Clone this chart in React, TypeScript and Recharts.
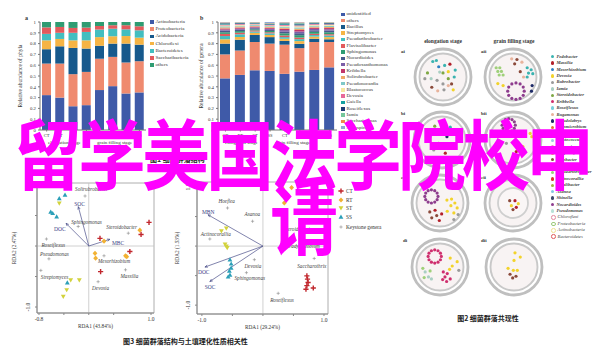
import React from 'react';
import { BarChart, Bar, XAxis, YAxis, ScatterChart, Scatter, ReferenceLine, ReferenceArea, ReferenceDot } from 'recharts';

// ---- fig 1: stacked bars ----
const samples = ['CT', 'RT', 'ST', 'SS', 'CT', 'RT', 'ST', 'SS'];

const phyla = ['Actinobacteria', 'Proteobacteria', 'Acidobacteria', 'Chloroflexi', 'Bacteroidetes', 'Saccharibacteria', 'others'];
const phylaColors = ['#3f5aa8', '#ef8a6f', '#17598c', '#f6b444', '#43bec0', '#e35a5c', '#2f9c72'];
const actinobacteria = [0.323, 0.3, 0.22, 0.23, 0.37, 0.406, 0.338, 0.348];
const proteobacteria = [0.292, 0.315, 0.297, 0.308, 0.29, 0.271, 0.287, 0.289];
const acidobacteria = [0.133, 0.16, 0.243, 0.216, 0.12, 0.123, 0.175, 0.153];
const chloroflexi = [0.082, 0.068, 0.07, 0.076, 0.08, 0.068, 0.07, 0.065];
const bacteroidetes = [0.06, 0.057, 0.07, 0.078, 0.07, 0.07, 0.062, 0.068];
const saccharibacteria = [0.06, 0.054, 0.045, 0.04, 0.033, 0.032, 0.038, 0.037];
const otherPhyla = [0.05, 0.046, 0.055, 0.052, 0.037, 0.03, 0.03, 0.04];
const phylaValues = [actinobacteria, proteobacteria, acidobacteria, chloroflexi, bacteroidetes, saccharibacteria, otherPhyla];

const genera = ['unidentified', 'others', 'Bacillus', 'Streptomyces', 'Pseudarthrobacter', 'Flavisolibacter', 'Sphingomonas',
  'Nocardioides', 'Pseudoxanthomonas', 'Kribbella', 'Solirubrobacter', 'Pseudonocardia', 'Blastococcus', 'Devosia',
  'Gaiella', 'Roseiflexus', 'Iamia', 'Saccharimonas', 'Nitrospira'];
const generaColors = ['#3f5aa8', '#ef8a6f', '#17598c', '#f6b444', '#43bec0', '#e35a5c', '#2f9c72', '#4a5a8c', '#7b5ea7',
  '#c2366b', '#f0a868', '#7fc8c8', '#f6e7a1', '#e7699a', '#15a0a0', '#1f3b73', '#76c79b', '#f08a4b', '#8fa8d6'];
const unidentified = [0.478, 0.51, 0.553, 0.547, 0.52, 0.54, 0.556, 0.58];
const otherGenera = [0.222, 0.226, 0.262, 0.253, 0.27, 0.218, 0.259, 0.235];
const bacillus = [0.1, 0.1, 0.065, 0.06, 0.035, 0.04, 0.03, 0.025];
const streptomyces = [0.04, 0.025, 0.02, 0.02, 0.02, 0.025, 0.02, 0.02];
const pseudarthrobacter = [0.03, 0.025, 0.012, 0.015, 0.015, 0.018, 0.014, 0.015];
const flavisolibacter = [0.02, 0.015, 0.01, 0.01, 0.015, 0.015, 0.012, 0.012];
const sphingomonas = [0.015, 0.015, 0.01, 0.012, 0.02, 0.022, 0.018, 0.018];
const nocardioides = [0.015, 0.012, 0.01, 0.01, 0.015, 0.018, 0.014, 0.015];
const pseudoxanthomonas = [0.01, 0.01, 0.008, 0.01, 0.015, 0.016, 0.013, 0.013];
const kribbella = [0.01, 0.01, 0.008, 0.008, 0.012, 0.014, 0.011, 0.011];
const solirubrobacter = [0.01, 0.01, 0.007, 0.008, 0.01, 0.012, 0.01, 0.01];
const pseudonocardia = [0.01, 0.008, 0.007, 0.008, 0.01, 0.012, 0.009, 0.01];
const blastococcus = [0.008, 0.008, 0.006, 0.006, 0.008, 0.01, 0.008, 0.008];
const devosia = [0.008, 0.007, 0.005, 0.006, 0.008, 0.009, 0.007, 0.007];
const gaiella = [0.006, 0.005, 0.005, 0.005, 0.007, 0.008, 0.006, 0.006];
const roseiflexus = [0.006, 0.005, 0.004, 0.005, 0.007, 0.008, 0.005, 0.006];
const iamia = [0.004, 0.003, 0.003, 0.004, 0.005, 0.006, 0.004, 0.004];
const saccharimonas = [0.004, 0.003, 0.003, 0.003, 0.004, 0.005, 0.002, 0.003];
const nitrospira = [0.004, 0.003, 0.002, 0.01, 0.004, 0.004, 0.002, 0.002];
const generaValues = [unidentified, otherGenera, bacillus, streptomyces, pseudarthrobacter, flavisolibacter, sphingomonas,
  nocardioides, pseudoxanthomonas, kribbella, solirubrobacter, pseudonocardia, blastococcus, devosia, gaiella,
  roseiflexus, iamia, saccharimonas, nitrospira];

const abundanceTicks = [0, 0.1, 0.2, 0.3, 0.4, 0.5, 0.6, 0.7, 0.8, 0.9, 1];

// ---- fig 3: RDA ----
const rdaLeftCT = [{ x: 0.968, y: 0.388 }, { x: 0.84, y: 0.19 }, { x: 0.18, y: 0.125 }, { x: 0.66, y: -0.09 }, { x: 0.19, y: -0.42 }];
const rdaLeftRT = [{ x: 0.82, y: 0.26 }, { x: 0.245, y: 0.08 }, { x: 0.1, y: -0.12 }, { x: 0.11, y: -0.2 }, { x: 0.61, y: -0.175 }, { x: 0.59, y: -0.16 }];
const rdaLeftST = [{ x: -0.474, y: 0.7 }, { x: -0.29, y: -0.557 }, { x: -0.152, y: -0.557 }, { x: -0.355, y: -0.72 }, { x: -0.41, y: -0.83 }];
const rdaLeftSS = [{ x: -0.474, y: 0.78 }, { x: -0.382, y: 0.836 }, { x: -0.612, y: 0.56 }, { x: -0.58, y: 0.536 }, { x: -0.516, y: 0.48 }, { x: -0.345, y: -0.6 }];
const rdaLeftGenera = [
  { name: 'Solirubrobacter', x: -0.06, y: 0.82 },
  { name: 'Sphingomonas', x: -0.17, y: 0.32 },
  { name: 'Steroidobacter', x: 0.635, y: 0.21 },
  { name: 'Roseiflexus', x: -0.68, y: 0.115 },
  { name: 'Pseudomonas', x: -0.64, y: -0.21 },
  { name: 'Mesorhizobium', x: 0.245, y: -0.16 },
  { name: 'Streptomyces', x: -0.77, y: -0.4 },
  { name: 'Massilia', x: 0.59, y: -0.39 },
  { name: 'Devosia', x: 0.15, y: -0.585 },
];
const rdaLeftFactors = [{ name: 'SOC', x: -0.168, y: 0.645 }, { name: 'DOC', x: -0.366, y: 0.372 }, { name: 'MBC', x: 0.34, y: 0.11 }];

const rdaRightCT = [{ x: 0.72, y: -0.505 }, { x: 0.73, y: -0.56 }, { x: 0.74, y: -0.617 }, { x: 0.72, y: -0.67 }, { x: 0.705, y: -0.73 }, { x: 0.825, y: -0.71 }];
const rdaRightRT = [{ x: 0.32, y: 0.98 }, { x: 0.47, y: 0.99 }, { x: 0.36, y: 0.83 }, { x: 0.35, y: 0.73 }];
const rdaRightST = [{ x: -0.68, y: 0.255 }, { x: -0.6, y: 0.3 }, { x: -0.62, y: 0.03 }, { x: -0.6, y: -0.005 }, { x: -0.585, y: -0.03 }];
const rdaRightSS = [{ x: -0.54, y: -0.23 }, { x: -0.52, y: -0.3 }, { x: -0.55, y: -0.42 }, { x: -0.54, y: -0.49 }, { x: -0.57, y: -0.52 }, { x: -0.52, y: -0.37 }];
const rdaRightGenera = [
  { name: 'Hoeflea', x: -0.58, y: 0.645 },
  { name: 'Asanoa', x: -0.17, y: 0.42 },
  { name: 'Actinocorallia', x: -0.87, y: 0.12 },
  { name: 'Devosia', x: -0.14, y: -0.23 },
  { name: 'Sphingomonas', x: -0.27, y: -0.45 },
  { name: 'Saccharothrix', x: 0.84, y: -0.21 },
  { name: 'Roseiflexus', x: 0.25, y: -0.8 },
  { name: 'Steroidobacter', x: 0.34, y: 0.22 },
  { name: 'Bradyrhizobium', x: 0.38, y: 0.02 },
];
const rdaRightFactors = [{ name: 'MBN', x: -0.9, y: 0.53 }, { name: 'DOC', x: -0.95, y: -0.355 }, { name: 'SOC', x: -0.87, y: -0.6 }];

const treatments = ['CT', 'RT', 'ST', 'SS'];
const treatmentColors = ['#c1272d', '#f2b233', '#d2d23c', '#2b9fb8'];

// label placement [dx, dy] in px, kept apart from the values
const leftLabelOffset: Record<string, number[]> = {
  Solirubrobacter: [-10, -6], Sphingomonas: [-7, -4], Steroidobacter: [-22, -5], Roseiflexus: [-5, 7],
  Pseudomonas: [-9, -4], Mesorhizobium: [-6, 6], Streptomyces: [0, 7], Massilia: [-5, 7], Devosia: [-6, 7],
};
const rightLabelOffset: Record<string, number[]> = {
  Hoeflea: [-9, -6], Asanoa: [-8, -6], Actinocorallia: [-9, -4], Devosia: [-10, 7], Sphingomonas: [-12, 6],
  Saccharothrix: [-17, 8], Roseiflexus: [-8, 7], Steroidobacter: [0, -3], Bradyrhizobium: [0, 2],
};
const leftFactorOffset: Record<string, number[]> = { SOC: [-4, -2], DOC: [-12, 6], MBC: [2, 4] };
const rightFactorOffset: Record<string, number[]> = { MBN: [-6, -2], DOC: [-7, 6], SOC: [-5, 6] };

// ---- fig 2: co-occurrence networks ----
const netGenera = ['Pedobacter', 'Massilia', 'Mesorhizobium', 'Devosia', 'Rubrobacter', 'Iamia', 'Steroidobacter', 'Kribbella',
  'Roseiflexus', 'Rugamonas', 'Pseudolabrys', 'Aeromicrobium', 'Gemmatimonas', 'Blastococcus', 'Nitrospira', 'Streptomyces',
  'Lysobacter', 'Haliangium', 'Pseudarthrobacter', 'Actinocorallia', 'Ramlibacter', 'Asanoa', 'Shinella', 'Nocardioides', 'Pseudomonas'];
const netColors = ['#3bb3b0', '#b3202a', '#2e7fc4', '#f2d32b', '#9a9a9a', '#a9cfc3', '#7ea744', '#cf2f6e', '#79d0de', '#e8b39c',
  '#1d2a66', '#e5722d', '#5aa34a', '#9fcbe6', '#e38fb0', '#f2b233', '#8b4a3b', '#d83a2e', '#9fd07a', '#e0322b', '#a3b63a',
  '#86c6df', '#3c4a6a', '#8e3d8e', '#b9e2d8'];
const moduleNames = ['Chloroflexi', 'Proteobacteria', 'Actinobacteria', 'Bacteroidetes'];
const moduleColors = ['#e48aa0', '#9bcb7a', '#f1e08f', '#e05a5a'];

const aiNodes = [
  { x: -0.31, y: 0.47, g: 'Pedobacter' }, { x: -0.2, y: 0.5, g: 'Pedobacter' }, { x: -0.13, y: 0.31, g: 'Mesorhizobium' },
  { x: 0.21, y: 0.39, g: 'Massilia' }, { x: 0.05, y: 0.35, g: 'Pedobacter' }, { x: 0, y: 0.125, g: 'Steroidobacter' },
  { x: 0.16, y: 0.16, g: 'Devosia' }, { x: 0.37, y: 0.21, g: 'Pedobacter' }, { x: 0.34, y: 0, g: 'Pedobacter' },
  { x: -0.55, y: -0.05, g: 'Rubrobacter' }, { x: -0.36, y: -0.05, g: 'Iamia' }, { x: -0.47, y: 0.125, g: 'Steroidobacter' },
  { x: -0.18, y: -0.1, g: 'Rubrobacter' }, { x: 0, y: -0.21, g: 'Rubrobacter' }, { x: 0.16, y: -0.05, g: 'Steroidobacter' },
  { x: -0.34, y: -0.31, g: 'Lysobacter' }, { x: -0.16, y: -0.42, g: 'Rugamonas' }, { x: 0.03, y: -0.39, g: 'Rubrobacter' },
  { x: 0.16, y: -0.26, g: 'Rugamonas' }, { x: 0.31, y: -0.39, g: 'Devosia' }, { x: 0.26, y: -0.21, g: 'Lysobacter' },
  { x: -0.1, y: 0.15, g: 'Iamia' },
];
const aiiNodes = [
  { x: -0.51, y: 0.28, g: 'Pseudarthrobacter' }, { x: -0.4, y: 0.28, g: 'Pseudarthrobacter' }, { x: -0.46, y: 0.17, g: 'Pseudarthrobacter' },
  { x: -0.35, y: 0.17, g: 'Pseudarthrobacter' }, { x: -0.42, y: 0.06, g: 'Pseudarthrobacter' }, { x: -0.3, y: 0.06, g: 'Pseudarthrobacter' },
  { x: 0.43, y: 0.28, g: 'Pedobacter' }, { x: 0.55, y: 0.22, g: 'Pedobacter' }, { x: 0.47, y: 0.12, g: 'Pedobacter' },
  { x: 0.6, y: 0.1, g: 'Pedobacter' }, { x: 0.43, y: 0, g: 'Pedobacter' },
  { x: -0.46, y: -0.2, g: 'Devosia' }, { x: -0.3, y: -0.26, g: 'Devosia' },
  { x: 0.58, y: -0.26, g: 'Pseudolabrys' }, { x: 0.56, y: -0.43, g: 'Pseudolabrys' },
  { x: -0.04, y: 0.55, g: 'Rugamonas' }, { x: 0.12, y: 0.53, g: 'Lysobacter' }, { x: 0.27, y: 0.45, g: 'Rugamonas' },
  { x: 0.05, y: 0.4, g: 'Lysobacter' }, { x: 0.22, y: 0.16, g: 'Lysobacter' }, { x: 0.32, y: 0, g: 'Rugamonas' },
  { x: 0.34, y: -0.43, g: 'Nocardioides' }, { x: 0.31, y: -0.305, g: 'Nocardioides' }, { x: 0.215, y: -0.21, g: 'Nocardioides' },
  { x: 0.09, y: -0.18, g: 'Nocardioides' }, { x: -0.035, y: -0.21, g: 'Nocardioides' }, { x: -0.13, y: -0.305, g: 'Nocardioides' },
  { x: -0.16, y: -0.43, g: 'Nocardioides' }, { x: -0.13, y: -0.555, g: 'Nocardioides' }, { x: -0.035, y: -0.65, g: 'Nocardioides' },
  { x: 0.09, y: -0.68, g: 'Nocardioides' }, { x: 0.215, y: -0.65, g: 'Nocardioides' }, { x: 0.31, y: -0.555, g: 'Nocardioides' },
];
const biNodes = [
  { x: -0.22, y: 0.42, g: 'Steroidobacter' }, { x: 0.25, y: 0.39, g: 'Pedobacter' }, { x: 0.05, y: 0.5, g: 'Pedobacter' },
  { x: -0.05, y: 0.3, g: 'Devosia' }, { x: 0.35, y: 0.2, g: 'Massilia' }, { x: -0.35, y: 0.1, g: 'Iamia' },
  { x: -0.1, y: -0.1, g: 'Kribbella' }, { x: 0.2, y: -0.2, g: 'Devosia' }, { x: -0.25, y: -0.3, g: 'Rubrobacter' },
  { x: 0.1, y: -0.4, g: 'Massilia' }, { x: -0.4, y: 0.3, g: 'Pedobacter' }, { x: 0.15, y: 0.1, g: 'Pseudolabrys' },
];
const biiNodes = [
  { x: 0.07, y: 0.45, g: 'Nocardioides' }, { x: 0.04, y: 0.55, g: 'Nocardioides' }, { x: -0.03, y: 0.62, g: 'Nocardioides' },
  { x: -0.13, y: 0.65, g: 'Nocardioides' }, { x: -0.23, y: 0.62, g: 'Nocardioides' }, { x: -0.3, y: 0.55, g: 'Nocardioides' },
  { x: -0.33, y: 0.45, g: 'Nocardioides' }, { x: -0.3, y: 0.35, g: 'Nocardioides' }, { x: -0.23, y: 0.28, g: 'Nocardioides' },
  { x: -0.13, y: 0.25, g: 'Nocardioides' }, { x: -0.03, y: 0.28, g: 'Nocardioides' }, { x: 0.04, y: 0.35, g: 'Nocardioides' },
  { x: 0.52, y: 0.2, g: 'Devosia' }, { x: 0.57, y: 0.1, g: 'Devosia' }, { x: 0.3, y: -0.2, g: 'Devosia' },
  { x: -0.2, y: -0.1, g: 'Rubrobacter' }, { x: 0.1, y: -0.35, g: 'Massilia' },
];
const ciNodes = [
  { x: -0.06, y: 0.2, g: 'Nocardioides' }, { x: -0.087, y: 0.3, g: 'Nocardioides' }, { x: -0.16, y: 0.373, g: 'Nocardioides' },
  { x: -0.26, y: 0.4, g: 'Nocardioides' }, { x: -0.36, y: 0.373, g: 'Nocardioides' }, { x: -0.433, y: 0.3, g: 'Nocardioides' },
  { x: -0.46, y: 0.2, g: 'Nocardioides' }, { x: -0.433, y: 0.1, g: 'Nocardioides' }, { x: -0.36, y: 0.027, g: 'Nocardioides' },
  { x: -0.26, y: 0, g: 'Nocardioides' }, { x: -0.16, y: 0.027, g: 'Nocardioides' }, { x: -0.087, y: 0.1, g: 'Nocardioides' },
  { x: 0.21, y: 0.09, g: 'Devosia' }, { x: 0.35, y: 0.12, g: 'Devosia' }, { x: 0.45, y: 0, g: 'Devosia' },
  { x: 0.33, y: -0.08, g: 'Devosia' }, { x: 0.22, y: -0.25, g: 'Devosia' }, { x: 0.42, y: -0.3, g: 'Devosia' },
  { x: 0.52, y: -0.15, g: 'Devosia' },
  { x: -0.31, y: -0.27, g: 'Lysobacter' }, { x: -0.15, y: -0.22, g: 'Massilia' }, { x: -0.1, y: -0.38, g: 'Lysobacter' },
  { x: 0.05, y: -0.33, g: 'Massilia' }, { x: -0.25, y: -0.45, g: 'Lysobacter' }, { x: -0.02, y: -0.53, g: 'Massilia' },
  { x: 0.42, y: -0.5, g: 'Rubrobacter' }, { x: 0.55, y: -0.35, g: 'Rubrobacter' },
];
const ciiNodes = [
  { x: -0.1, y: 0.07, g: 'Lysobacter' }, { x: 0.06, y: 0.07, g: 'Massilia' }, { x: 0.16, y: -0.02, g: 'Devosia' },
  { x: -0.05, y: -0.08, g: 'Devosia' }, { x: 0.1, y: -0.13, g: 'Massilia' }, { x: 0, y: -0.2, g: 'Lysobacter' },
];
const diNodes = [
  { x: 0.04, y: 0.32, g: 'Kribbella' }, { x: 0.013, y: 0.42, g: 'Kribbella' }, { x: -0.06, y: 0.493, g: 'Kribbella' },
  { x: -0.16, y: 0.52, g: 'Kribbella' }, { x: -0.26, y: 0.493, g: 'Kribbella' }, { x: -0.333, y: 0.42, g: 'Kribbella' },
  { x: -0.36, y: 0.32, g: 'Kribbella' }, { x: -0.333, y: 0.22, g: 'Kribbella' }, { x: -0.26, y: 0.147, g: 'Kribbella' },
  { x: -0.16, y: 0.12, g: 'Kribbella' }, { x: -0.06, y: 0.147, g: 'Kribbella' }, { x: 0.013, y: 0.22, g: 'Kribbella' },
  { x: 0.31, y: 0.27, g: 'Devosia' }, { x: 0.52, y: 0.16, g: 'Devosia' }, { x: 0.37, y: 0.03, g: 'Devosia' }, { x: 0.29, y: -0.07, g: 'Devosia' },
  { x: -0.52, y: -0.04, g: 'Pseudarthrobacter' }, { x: -0.45, y: -0.15, g: 'Iamia' }, { x: -0.3, y: -0.12, g: 'Pseudarthrobacter' },
  { x: -0.35, y: -0.3, g: 'Iamia' }, { x: -0.48, y: -0.32, g: 'Pseudarthrobacter' }, { x: -0.26, y: -0.36, g: 'Iamia' },
  { x: 0.1, y: -0.15, g: 'Kribbella' }, { x: 0.22, y: -0.2, g: 'Kribbella' }, { x: 0.15, y: -0.3, g: 'Kribbella' },
  { x: 0.31, y: -0.36, g: 'Kribbella' }, { x: 0.2, y: -0.44, g: 'Kribbella' }, { x: 0.08, y: -0.38, g: 'Kribbella' },
  { x: 0.57, y: -0.1, g: 'Rubrobacter' },
];
const diiNodes = [
  { x: 0.03, y: 0.43, g: 'Devosia' }, { x: 0.19, y: 0.3, g: 'Devosia' }, { x: 0, y: 0.2, g: 'Devosia' },
  { x: -0.18, y: -0.04, g: 'Devosia' }, { x: -0.02, y: -0.1, g: 'Devosia' }, { x: 0.1, y: -0.1, g: 'Devosia' },
  { x: -0.12, y: -0.22, g: 'Lysobacter' }, { x: 0.06, y: -0.28, g: 'Lysobacter' }, { x: -0.04, y: -0.33, g: 'Lysobacter' },
];

const titleLines = ['留学美国法学院校申', '请'];

const SERIF = "'Liberation Serif', 'DejaVu Serif', serif";
const CJK = "'Noto Sans CJK SC', sans-serif";

const abs = (left: number, top: number, extra: React.CSSProperties = {}): React.CSSProperties => ({
  position: 'absolute', left, top, ...extra,
});

function buildRows(values: number[][], keys: string[]) {
  return samples.map((s, i) => {
    const row: Record<string, number | string> = { label: s };
    keys.forEach((k, j) => { row[k] = values[j][i]; });
    return row;
  });
}

function StackPanel({ left, keys, colors, values, yLabel, barSize }: {
  left: number; keys: string[]; colors: string[]; values: number[][]; yLabel: string; barSize: number;
}) {
  const data = buildRows(values, keys);
  return (
    <div style={abs(left, 0)}>
      <BarChart width={left === 0 ? 150 : 160} height={150} data={data} margin={{ top: 22, right: left === 0 ? 4 : 3, bottom: 10, left: 0 }}>
        <XAxis dataKey="label" height={10} tickSize={1.5} stroke="#777" tick={{ fontSize: 4.5, fill: '#333', fontFamily: SERIF }} interval={0} />
        <YAxis type="number" domain={[0, 1]} ticks={abundanceTicks} width={left === 0 ? 40 : 38} tickSize={2} stroke="#777"
          tickFormatter={(v: number) => (v === 1 ? '1' : v === 0 ? '0' : v.toFixed(1))}
          tick={{ fontSize: 4.8, fill: '#333', fontFamily: SERIF }}
          label={{ value: yLabel, angle: -90, position: 'insideLeft', offset: left === 0 ? 20 : 21, style: { fontSize: 5.5, fill: '#333', fontFamily: SERIF, textAnchor: 'middle' } }} />
        {keys.map((k, j) => (
          <Bar key={k} dataKey={k} stackId="s" fill={colors[j]} barSize={barSize} isAnimationActive={false} />
        ))}
      </BarChart>
    </div>
  );
}

function SquareLegend({ left, top, step, names, colors }: {
  left: number; top: number; step: number; names: string[]; colors: string[];
}) {
  return (
    <div style={abs(left, top)}>
      {names.map((n, i) => (
        <div key={n} style={abs(0, i * step - 3, { display: 'flex', alignItems: 'center', whiteSpace: 'nowrap' })}>
          <span style={{ width: 3.5, height: 3.5, background: colors[i], display: 'inline-block', marginRight: 2 }} />
          <span style={{ fontSize: 5, lineHeight: '6px', fontFamily: SERIF, color: '#333' }}>{n}</span>
        </div>
      ))}
    </div>
  );
}

function marker(kind: string, color: string) {
  return (props: any) => {
    const { cx, cy } = props;
    if (cx == null || cy == null) return <g />;
    if (kind === 'CT') {
      return <path d={`M${cx - 2.6},${cy}H${cx + 2.6}M${cx},${cy - 2.6}V${cy + 2.6}`} stroke={color} strokeWidth={1.4} />;
    }
    if (kind === 'RT') {
      return <path d={`M${cx},${cy - 2.6}L${cx + 2.4},${cy}L${cx},${cy + 2.6}L${cx - 2.4},${cy}Z`} fill={color} />;
    }
    if (kind === 'ST') {
      return <path d={`M${cx - 2.4},${cy - 1.8}H${cx + 2.4}L${cx},${cy + 2.4}Z`} fill={color} />;
    }
    return <path d={`M${cx - 2.4},${cy + 1.8}H${cx + 2.4}L${cx},${cy - 2.4}Z`} fill={color} />;
  };
}

function genusMarker(offsets: Record<string, number[]>) {
  return (props: any) => {
    const { cx, cy, payload } = props;
    if (cx == null || cy == null) return <g />;
    const [dx, dy] = offsets[payload.name] || [2, -3];
    return (
      <g>
        <path d={`M${cx - 1.6},${cy}H${cx + 1.6}M${cx},${cy - 1.6}V${cy + 1.6}`} stroke="#8a8a8a" strokeWidth={0.6} />
        <text x={cx + dx} y={cy + dy} fontSize={5.2} fontStyle="italic" fill="#444" fontFamily={SERIF} dominantBaseline="middle">{payload.name}</text>
      </g>
    );
  };
}

function arrowHead(kx: number, ky: number, offsets: Record<string, number[]>) {
  return (props: any) => {
    const { cx, cy, payload } = props;
    if (cx == null || cy == null) return <g />;
    const ang = Math.atan2(-payload.y * ky, payload.x * kx);
    const s = 3;
    const p1x = cx - s * Math.cos(ang - 0.4), p1y = cy - s * Math.sin(ang - 0.4);
    const p2x = cx - s * Math.cos(ang + 0.4), p2y = cy - s * Math.sin(ang + 0.4);
    const [dx, dy] = offsets[payload.name] || [0, 0];
    return (
      <g>
        <path d={`M${p1x},${p1y}L${cx},${cy}L${p2x},${p2y}`} stroke="#4b4f8a" strokeWidth={0.7} fill="none" />
        <text x={cx + dx} y={cy + dy} fontSize={5.5} fill="#3b3f86" fontFamily={SERIF} dominantBaseline="middle">{payload.name}</text>
      </g>
    );
  };
}

const rotatedTick = (props: any) => {
  const { x, y, payload } = props;
  if (Math.abs(payload.value) !== 1) return <g />;
  const t = payload.value > 0 ? '1.0' : '-1.0';
  return (
    <text x={x - 3} y={y} transform={`rotate(-90 ${x - 3} ${y})`} textAnchor="middle" fontSize={5.5} fill="#333" fontFamily={SERIF}>{t}</text>
  );
};

function RdaPanel(p: {
  left: number; width: number; margin: { top: number; right: number; bottom: number; left: number }; yWidth: number;
  xDomain: number[]; yDomain: number[]; xTicks: number[]; xLabels: Record<string, string>; xTitle: string; yTitle: string;
  ct: any[]; rt: any[]; st: any[]; ss: any[]; genera: any[]; factors: any[];
  labelOffsets: Record<string, number[]>; factorOffsets: Record<string, number[]>;
}) {
  const height = 175;
  const plotW = p.width - p.margin.left - p.margin.right - p.yWidth;
  const plotH = height - p.margin.top - p.margin.bottom - 20;
  const kx = plotW / (p.xDomain[1] - p.xDomain[0]);
  const ky = plotH / (p.yDomain[1] - p.yDomain[0]);
  const series = [p.ct, p.rt, p.st, p.ss];
  return (
    <div style={abs(p.left, 170)}>
      <ScatterChart width={p.width} height={height} margin={p.margin}>
        <XAxis type="number" dataKey="x" domain={p.xDomain} allowDataOverflow ticks={p.xTicks} height={20} tickSize={2} stroke="#888"
          tickFormatter={(v: number) => p.xLabels[String(v)] ?? ''} tick={{ fontSize: 5.5, fill: '#333', fontFamily: SERIF }}
          label={{ value: p.xTitle, position: 'insideBottom', offset: 5, style: { fontSize: 5.3, fill: '#333', fontFamily: SERIF } }} />
        <YAxis type="number" dataKey="y" domain={p.yDomain} allowDataOverflow ticks={[-1, -0.5, 0, 0.5, 1]} width={p.yWidth} tickSize={2}
          stroke="#888" tick={rotatedTick}
          label={{ value: p.yTitle, angle: -90, position: 'insideLeft', offset: 2, style: { fontSize: 5.3, fill: '#333', fontFamily: SERIF, textAnchor: 'middle' } }} />
        <ReferenceArea x1={p.xDomain[0]} x2={p.xDomain[1]} y1={p.yDomain[0]} y2={p.yDomain[1]} fill="none" stroke="#999" strokeWidth={0.8} ifOverflow="visible" />
        <ReferenceLine x={0} stroke="#c4c4c4" strokeWidth={0.8} />
        <ReferenceLine y={0} stroke="#c4c4c4" strokeWidth={0.8} />
        {p.factors.map((f) => (
          <ReferenceLine key={f.name} segment={[{ x: 0, y: 0 }, { x: f.x, y: f.y }]} stroke="#4b4f8a" strokeWidth={0.7} />
        ))}
        <Scatter data={p.factors} shape={arrowHead(kx, ky, p.factorOffsets)} isAnimationActive={false} />
        <Scatter data={p.genera} shape={genusMarker(p.labelOffsets)} isAnimationActive={false} />
        {series.map((d, i) => (
          <Scatter key={treatments[i]} data={d} shape={marker(treatments[i], treatmentColors[i])} isAnimationActive={false} />
        ))}
      </ScatterChart>
    </div>
  );
}

const netColorOf = (g: string) => netColors[netGenera.indexOf(g)] || '#999';
const nodeShape = (props: any) => {
  const { cx, cy, payload } = props;
  if (cx == null || cy == null) return <g />;
  return <circle cx={cx} cy={cy} r={1.6} fill={netColorOf(payload.g)} />;
};

function Network({ cx, cy, nodes, tripleRing }: { cx: number; cy: number; nodes: any[]; tripleRing?: boolean }) {
  return (
    <div style={abs(cx - 33, cy - 33)}>
      <ScatterChart width={66} height={66} margin={{ top: 0, right: 0, bottom: 0, left: 0 }}>
        <XAxis type="number" dataKey="x" domain={[-1, 1]} hide />
        <YAxis type="number" dataKey="y" domain={[-1, 1]} hide />
        <ReferenceDot x={0} y={0} r={28} fill="#ffffff" stroke="#bfbfbf" strokeWidth={2.8} ifOverflow="visible" />
        <ReferenceDot x={0} y={0} r={23.5} fill="#f8f3f3" stroke="#c8c8c8" strokeWidth={1.9} ifOverflow="visible" />
        {tripleRing && <ReferenceDot x={0} y={0} r={15} fill="#faf6f6" stroke="#cfcfcf" strokeWidth={1.8} ifOverflow="visible" />}
        <Scatter data={nodes} shape={nodeShape} isAnimationActive={false} />
      </ScatterChart>
    </div>
  );
}

const tiny = (size: number, extra: React.CSSProperties = {}): React.CSSProperties => ({
  fontSize: size, fontFamily: SERIF, color: '#333', whiteSpace: 'nowrap', lineHeight: 1, ...extra,
});

export default function App() {
  return (
    <div style={{ position: 'absolute', left: 0, top: 0, width: 600, height: 357, background: '#fff', overflow: 'hidden' }}>
      {/* fig 1 */}
      <div style={abs(25, 15, tiny(6, { fontWeight: 700 }))}>a</div>
      <div style={abs(200, 15, tiny(6, { fontWeight: 700 }))}>b</div>
      <StackPanel left={0} keys={phyla} colors={phylaColors} values={phylaValues} yLabel="Relative abundance of phyla" barSize={9} />
      <StackPanel left={180} keys={genera} colors={generaColors} values={generaValues} yLabel="Relative abundance of genera" barSize={10} />
      <SquareLegend left={150} top={22} step={7.2} names={phyla} colors={phylaColors} />
      <SquareLegend left={341} top={14.3} step={6.3} names={genera} colors={generaColors} />
      <div style={abs(48, 140, tiny(5))}>elongation stage</div>
      <div style={abs(97, 140, tiny(5))}>grain filling stage</div>
      <div style={abs(225, 140, tiny(5))}>elongation stage</div>
      <div style={abs(275, 140, tiny(5))}>grain filling stage</div>
      <div style={abs(150, 154, { fontSize: 7, fontFamily: CJK, fontWeight: 700, color: '#222', whiteSpace: 'nowrap' })}>图1 细菌群落结构</div>

      {/* fig 2 */}
      <div style={abs(443, 39, tiny(5.5, { fontWeight: 700, transform: 'translateX(-50%)' }))}>elongation stage</div>
      <div style={abs(514, 39, tiny(5.5, { fontWeight: 700, transform: 'translateX(-50%)' }))}>grain filling stage</div>
      {[['ai', 401, 49], ['aii', 481, 49], ['bi', 401, 111], ['bii', 481, 111], ['ci', 401, 175], ['cii', 481, 175], ['di', 403, 238], ['dii', 481, 238]].map(([t, x, y]) => (
        <div key={t as string} style={abs(x as number, y as number, tiny(5, { fontWeight: 700 }))}>{t}</div>
      ))}
      <Network cx={443} cy={77} nodes={aiNodes} />
      <Network cx={513} cy={77} nodes={aiiNodes} />
      <Network cx={442} cy={140} nodes={biNodes} />
      <Network cx={513} cy={140} nodes={biiNodes} />
      <Network cx={440} cy={203} nodes={ciNodes} />
      <Network cx={513} cy={203} nodes={ciiNodes} tripleRing />
      <Network cx={440} cy={267} nodes={diNodes} />
      <Network cx={514} cy={267} nodes={diiNodes} />
      <div style={abs(551, 56.7)}>
        {netGenera.map((n, i) => (
          <div key={n} style={abs(0, i * 6.43 - 3, { display: 'flex', alignItems: 'center', whiteSpace: 'nowrap' })}>
            <span style={{ width: 3.4, height: 3.4, borderRadius: '50%', background: netColors[i], display: 'inline-block', marginRight: 2 }} />
            <span style={{ fontSize: 4.6, lineHeight: '6px', fontFamily: SERIF, fontStyle: 'italic', fontWeight: 700, color: '#444' }}>{n}</span>
          </div>
        ))}
        {moduleNames.map((n, i) => (
          <div key={n} style={abs(0, (netGenera.length + i) * 6.43 - 3, { display: 'flex', alignItems: 'center', whiteSpace: 'nowrap' })}>
            <span style={{ width: 2.6, height: 2.6, borderRadius: '50%', border: `0.8px solid ${moduleColors[i]}`, display: 'inline-block', marginRight: 2 }} />
            <span style={{ fontSize: 4.6, lineHeight: '6px', fontFamily: SERIF, fontStyle: 'italic', color: '#444' }}>{n}</span>
          </div>
        ))}
      </div>
      <div style={abs(488, 313, { fontSize: 7, fontFamily: CJK, fontWeight: 700, color: '#222', whiteSpace: 'nowrap', transform: 'translateX(-50%)' })}>图2 细菌群落共现性</div>

      {/* fig 3 */}
      <RdaPanel left={0} width={165} margin={{ top: 13, right: 11, bottom: 12, left: 12 }} yWidth={25}
        xDomain={[-0.832, 1.048]} yDomain={[-1.098, 1.033]} xTicks={[-0.8, -0.4, 0, 0.4, 1]} xLabels={{ '-0.8': '-0.8', '1': '1.0' }}
        xTitle="RDA1 (43.84%)" yTitle="RDA2 (2.47%)" ct={rdaLeftCT} rt={rdaLeftRT} st={rdaLeftST} ss={rdaLeftSS}
        genera={rdaLeftGenera} factors={rdaLeftFactors} labelOffsets={leftLabelOffset} factorOffsets={leftFactorOffset} />
      <RdaPanel left={165} width={175} margin={{ top: 12, right: 12, bottom: 11, left: 10 }} yWidth={22}
        xDomain={[-1.08, 1.066]} yDomain={[-1.15, 1.085]} xTicks={[-1, -0.5, 0, 0.5, 1]} xLabels={{ '-1': '-1.0', '1': '1.0' }}
        xTitle="RDA1 (29.24%)" yTitle="RDA2 (1.53%)" ct={rdaRightCT} rt={rdaRightRT} st={rdaRightST} ss={rdaRightSS}
        genera={rdaRightGenera} factors={rdaRightFactors} labelOffsets={rightLabelOffset} factorOffsets={rightFactorOffset} />
      <div style={abs(338, 188)}>
        {treatments.map((t, i) => (
          <div key={t} style={abs(0, i * 8.7, { display: 'flex', alignItems: 'center', whiteSpace: 'nowrap' })}>
            <svg width={6} height={6}>{marker(t, treatmentColors[i])({ cx: 3, cy: 3 })}</svg>
            <span style={{ fontSize: 5.3, fontFamily: SERIF, color: '#333', marginLeft: 2 }}>{t}</span>
          </div>
        ))}
        <div style={abs(0, 4 * 8.7 + 1, { display: 'flex', alignItems: 'center', whiteSpace: 'nowrap' })}>
          <svg width={6} height={6}><path d="M1.4,3H4.6M3,1.4V4.6" stroke="#8a8a8a" strokeWidth={0.6} /></svg>
          <span style={{ fontSize: 5.3, fontFamily: SERIF, color: '#333', marginLeft: 2 }}>Keystone genera</span>
        </div>
      </div>
      <div style={abs(123, 336, { fontSize: 7, fontFamily: CJK, fontWeight: 700, color: '#222', whiteSpace: 'nowrap' })}>图3 细菌群落结构与土壤理化性质相关性</div>

      {/* overlay title */}
      <svg width={600} height={357} style={abs(0, 0, { zIndex: 10, pointerEvents: 'none' })}>
        {titleLines.map((t, i) => (
          <text key={t} transform={`translate(300 ${i === 0 ? 184 : 249}) scale(1 1.127)`} x={2} y={0} textAnchor="middle"
            fontSize={68} fontWeight={700} fontFamily={CJK} fill="#ff00ff" style={{ letterSpacing: -4 }}>{t}</text>
        ))}
      </svg>
    </div>
  );
}
